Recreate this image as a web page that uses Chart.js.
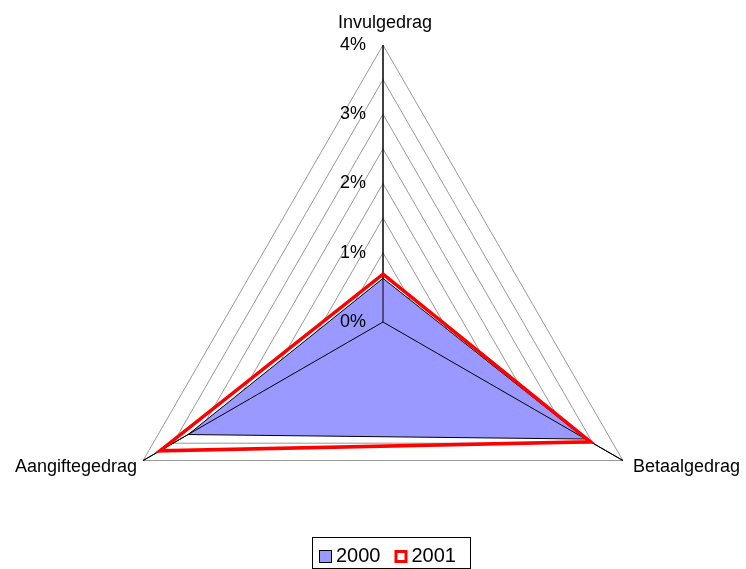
<!DOCTYPE html>
<html>
<head>
<meta charset="utf-8">
<script src="https://cdn.jsdelivr.net/npm/chart.js@4.4.1/dist/chart.umd.min.js"></script>
<style>
html, body { margin: 0; padding: 0; background: #fff; }
#wrap { width: 746px; height: 569px; }
</style>
</head>
<body>
<div id="wrap"><canvas id="grafikRadar"></canvas></div>
<script>
const categories = ['Invulgedrag', 'Betaalgedrag', 'Aangiftegedrag'];
const seriesNames = ['2000', '2001'];
const values2000 = [0.63, 3.38, 3.25];
const values2001 = [0.69, 3.46, 3.72];
const tickValues = [0, 1, 2, 3, 4];
const tickLabels = ['0%', '1%', '2%', '3%', '4%'];

const fam = 'Arial, "Liberation Sans", sans-serif';
Chart.defaults.font.family = fam;

// tick labels, axis labels and the framed legend
const radarText = {
    id: 'radarText',
    afterDatasetDraw(chart, args) {
        // angle lines stay visible on top of the 2000 fill
        if (args.index !== 0) return;
        const s = chart.scales.r;
        const c = chart.ctx;
        const R = s.getDistanceFromCenterForValue(s.max);
        c.save();
        c.strokeStyle = '#000';
        c.lineWidth = 1;
        categories.forEach((lab, i) => {
            const p = s.getPointPosition(i, R);
            c.beginPath();
            c.moveTo(s.xCenter, s.yCenter);
            c.lineTo(p.x, p.y);
            c.stroke();
        });
        c.restore();
    },
    afterDraw(chart) {
        const s = chart.scales.r;
        const c = chart.ctx;
        c.save();
        c.fillStyle = '#000';
        c.font = '18px ' + fam;

        c.textAlign = 'right';
        c.textBaseline = 'middle';
        tickValues.forEach((v, i) => {
            const d = s.getDistanceFromCenterForValue(v);
            c.fillText(tickLabels[i], s.xCenter - 17, s.yCenter - d);
        });

        const R = s.getDistanceFromCenterForValue(s.max);
        categories.forEach((lab, i) => {
            const p = s.getPointPosition(i, R);
            if (i === 0) {
                c.textAlign = 'center';
                c.fillText(lab, p.x + 2, p.y - 22);
            } else if (p.x > s.xCenter) {
                c.textAlign = 'left';
                c.fillText(lab, p.x + 10, p.y + 7);
            } else {
                c.textAlign = 'right';
                c.fillText(lab, p.x - 6, p.y + 7);
            }
        });

        // legend
        c.font = '20px ' + fam;
        c.textAlign = 'left';
        c.lineWidth = 1;
        c.strokeStyle = '#000';
        c.strokeRect(312.5, 537.5, 158, 31);
        let x = 319;
        chart.data.datasets.forEach((ds, i) => {
            if (i === 0) {
                c.fillStyle = ds.backgroundColor;
                c.fillRect(x, 550, 13, 13);
                c.strokeStyle = '#000';
                c.lineWidth = 1;
                c.strokeRect(x + 0.5, 550.5, 12, 12);
            } else {
                c.fillStyle = '#fff';
                c.fillRect(x, 550, 13, 13);
                c.strokeStyle = ds.borderColor;
                c.lineWidth = 3;
                c.strokeRect(x + 1.5, 551.5, 10, 10);
            }
            c.fillStyle = '#000';
            c.fillText(ds.label, x + 17, 556);
            x += 17 + c.measureText(ds.label).width + 14;
        });
        c.restore();
    }
};

new Chart(document.getElementById('grafikRadar'), {
    type: 'radar',
    data: {
        labels: categories,
        datasets: [{
            label: seriesNames[0],
            data: values2000,
            backgroundColor: '#9999FF',
            borderColor: '#000000',
            borderWidth: 1,
            fill: true,
            pointRadius: 0,
            order: 1
        }, {
            label: seriesNames[1],
            data: values2001,
            backgroundColor: 'rgba(0,0,0,0)',
            borderColor: '#FF0000',
            borderWidth: 3.5,
            fill: false,
            pointRadius: 0,
            order: 0
        }]
    },
    options: {
        responsive: true,
        maintainAspectRatio: false,
        animation: false,
        plugins: {
            legend: { display: false },
            tooltip: { enabled: false }
        },
        elements: { line: { tension: 0 } },
        scales: {
            r: {
                min: 0,
                max: 4,
                ticks: { display: false, stepSize: 0.5 },
                pointLabels: { display: false },
                grid: { color: '#999999', lineWidth: 1 },
                angleLines: { color: '#000000', lineWidth: 1 },
                afterFit(scale) {
                    scale.xCenter = 383;
                    scale.yCenter = 322;
                    scale.drawingArea = 277;
                }
            }
        }
    },
    plugins: [radarText]
});
</script>
</body>
</html>
